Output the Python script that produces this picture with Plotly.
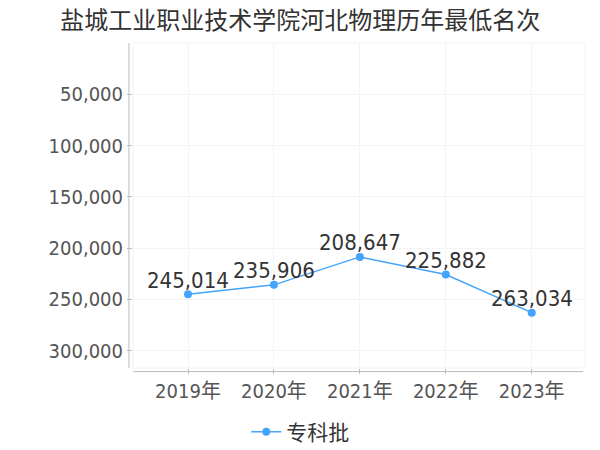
import plotly.graph_objects as go

years = ["2019年", "2020年", "2021年", "2022年", "2023年"]
ranks = [245014, 235906, 208647, 225882, 263034]
series_name = "专科批"
title_text = "盐城工业职业技术学院河北物理历年最低名次"
y_ticks = [50000, 100000, 150000, 200000, 250000, 300000]
y_tick_text = ["50,000", "100,000", "150,000", "200,000", "250,000", "300,000"]

labels = [f"{v:,}" for v in ranks]

font_main = "DejaVu Sans Condensed, Noto Sans CJK SC"

fig = go.Figure()
fig.add_trace(go.Scatter(
    x=years, y=ranks, mode="lines+markers", name=series_name,
    line=dict(color="#44a3fa", width=1.5),
    marker=dict(color="#44a3fa", size=8),
))

for yr, v, lab in zip(years, ranks, labels):
    fig.add_annotation(x=yr, y=v, text=lab, showarrow=False, xanchor="center",
                       yanchor="middle", yshift=14,
                       font=dict(size=22, color="#333333", family=font_main))

fig.update_layout(
    width=600, height=450,
    margin=dict(l=125, r=23, t=35, b=90, autoexpand=False),
    paper_bgcolor="white", plot_bgcolor="white",
    title=dict(text=title_text, x=0.487, xanchor="center", y=0.973, yanchor="middle",
               font=dict(size=24, color="#333333", family="Noto Sans CJK SC")),
    showlegend=True,
    legend=dict(orientation="h", x=0.37, xanchor="center", y=-0.197, yanchor="middle",
                itemwidth=30,
                font=dict(size=21, color="#333333", family="Noto Sans CJK SC")),
    xaxis=dict(type="category", range=[-0.64, 4.62], showgrid=True, gridcolor="#f4f4f4",
               showline=False, zeroline=False, ticks="outside", ticklen=5, tickcolor="#bbbbbb",
               automargin=False,
               tickfont=dict(size=20, color="#555555", family=font_main)),
    yaxis=dict(range=[317000, 0], tickvals=y_ticks, ticktext=y_tick_text, showgrid=True,
               gridcolor="#f4f4f4", showline=False, zeroline=False, ticks="outside",
               ticklen=5, tickcolor="#bbbbbb", automargin=False,
               tickfont=dict(size=20, color="#555555", family=font_main)),
    shapes=[
        dict(type="rect", xref="paper", yref="paper", x0=0, x1=1, y0=0, y1=1,
             line=dict(color="#f2f2f2", width=1)),
        dict(type="line", xref="paper", yref="paper", x0=-0.009, x1=-0.009, y0=0, y1=1,
             line=dict(color="#bbbbbb", width=1)),
        dict(type="line", xref="paper", yref="paper", x0=0, x1=0.996, y0=-0.011, y1=-0.011,
             line=dict(color="#bbbbbb", width=1)),
    ],
)

fig.write_html("out.html")
